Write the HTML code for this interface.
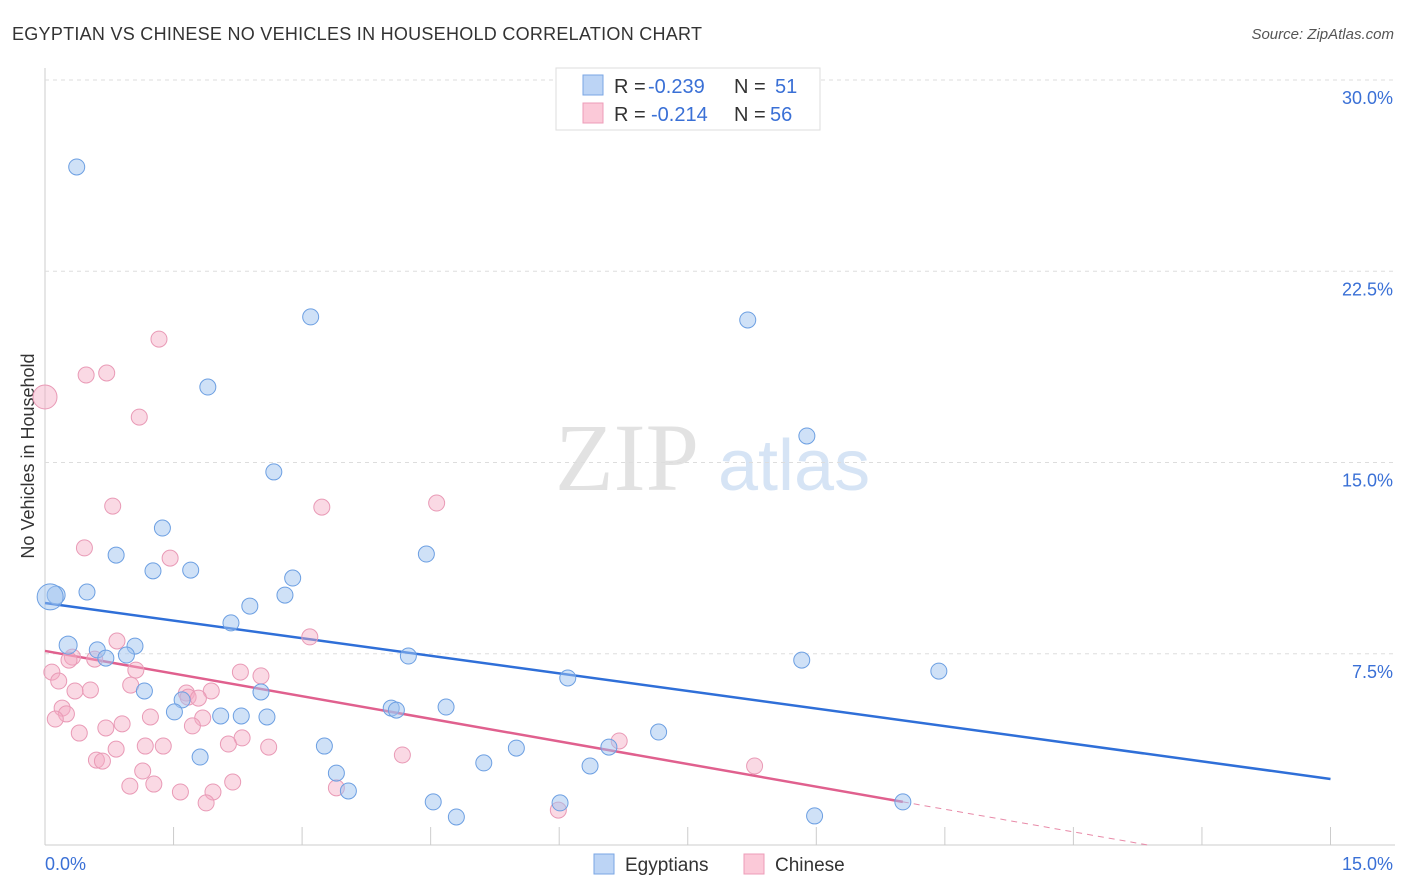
<!DOCTYPE html>
<html><head><meta charset="utf-8"><style>
body{margin:0;background:#fff;font-family:"Liberation Sans",sans-serif;}
svg{display:block}
</style></head><body>
<svg id="chart" width="1406" height="892">
<text x="12" y="40" font-size="18" fill="#333" textLength="690">EGYPTIAN VS CHINESE NO VEHICLES IN HOUSEHOLD CORRELATION CHART</text>
<text x="1394" y="39" font-size="15" fill="#555" font-style="italic" text-anchor="end">Source: ZipAtlas.com</text>
<text x="555" y="490" font-size="96" font-family="Liberation Serif,serif" fill="#e2e2e2">ZIP</text>
<text x="718" y="490" font-size="72" fill="#d6e4f5">atlas</text>
<text transform="translate(34,456) rotate(-90)" font-size="18" fill="#333" text-anchor="middle">No Vehicles in Household</text>
<g id="grid"></g><g id="ticks"></g><g id="lines"></g><g id="pts"></g>
<g>
<rect x="556" y="68" width="264" height="62" fill="#fff" stroke="#ddd"/>
<rect x="583" y="75" width="20" height="20" fill="#bcd4f5" stroke="#7aa6e4"/>
<rect x="583" y="103" width="20" height="20" fill="#fbc9d8" stroke="#ee9cb8"/>
<text x="614" y="93" font-size="20" fill="#333">R = <tspan x="648" fill="#3a70d6">-0.239</tspan><tspan x="734">N = </tspan><tspan x="775" fill="#3a70d6">51</tspan></text>
<text x="614" y="121" font-size="20" fill="#333">R = <tspan x="651" fill="#3a70d6">-0.214</tspan><tspan x="734">N = </tspan><tspan x="770" fill="#3a70d6">56</tspan></text>
</g>
<g>
<rect x="594" y="854" width="20" height="20" fill="#bcd4f5" stroke="#7aa6e4"/>
<text x="625" y="871" font-size="19" fill="#333">Egyptians</text>
<rect x="744" y="854" width="20" height="20" fill="#fbc9d8" stroke="#ee9cb8"/>
<text x="775" y="871" font-size="19" fill="#333">Chinese</text>
</g>
</svg>
<script>
const yTicks=[7.5,15,22.5,30];
const yTickLabels=["7.5%","15.0%","22.5%","30.0%"];
const blueX=[0.37,3.10,8.20,1.90,8.89,2.67,1.37,0.83,4.45,1.26,1.70,0.13,0.49,2.89,2.80,2.39,2.17,0.27,0.61,1.05,0.95,0.71,4.24,8.83,10.43,6.10,1.16,2.52,1.60,1.51,2.05,2.29,2.59,4.04,4.10,4.68,7.16,6.58,3.26,5.50,1.81,5.12,6.36,3.40,3.54,4.53,6.01,10.01,4.80,8.98,0.06];
const blueY=[26.59,20.71,20.59,17.96,16.04,14.63,12.43,11.37,11.41,10.75,10.78,9.80,9.92,10.47,9.80,9.37,8.71,7.84,7.65,7.80,7.45,7.33,7.41,7.25,6.82,6.55,6.04,6.00,5.69,5.22,5.06,5.06,5.02,5.37,5.29,5.41,4.43,3.84,3.88,3.80,3.45,3.22,3.10,2.82,2.12,1.69,1.65,1.69,1.10,1.14,9.73];
const blueR=[8,8,8,8,8,8,8,8,8,8,8,9,8,8,8,8,8,9,8,8,8,8,8,8,8,8,8,8,8,8,8,8,8,8,8,8,8,8,8,8,8,8,8,8,8,8,8,8,8,8,13];
const pinkX=[1.33,0.48,0.72,0.00,1.10,0.79,3.23,4.57,0.46,1.46,3.09,0.84,0.32,0.28,0.58,1.06,0.08,2.28,2.52,0.16,1.00,0.53,0.35,1.65,1.94,1.67,1.79,0.20,0.25,1.23,1.84,0.12,1.72,0.90,0.71,0.40,2.30,2.14,1.17,1.38,2.61,0.83,6.70,4.17,0.60,0.67,8.28,1.14,2.19,0.99,1.27,1.58,1.96,3.40,1.88,5.99];
const pinkY=[19.84,18.43,18.51,17.57,16.78,13.29,13.25,13.41,11.65,11.25,8.16,8.00,7.37,7.25,7.29,6.86,6.78,6.78,6.63,6.43,6.27,6.08,6.04,5.96,6.04,5.80,5.76,5.37,5.14,5.02,4.98,4.94,4.67,4.75,4.59,4.39,4.20,3.96,3.88,3.88,3.84,3.76,4.08,3.53,3.33,3.29,3.10,2.90,2.47,2.31,2.39,2.08,2.08,2.24,1.65,1.37];
const blueTrend=[9.49,2.59];
const pinkTrend=[7.61,-1.26];
const pinkSolidEnd=10.01;
const NS="http://www.w3.org/2000/svg";
const X=v=>45+v*85.7, Y=v=>845-v*25.5;
function mk(t,a,p){const e=document.createElementNS(NS,t);for(const k in a)e.setAttribute(k,a[k]);p.appendChild(e);return e;}
const g=document.getElementById('grid'),tk=document.getElementById('ticks'),ln=document.getElementById('lines'),pt=document.getElementById('pts');
mk('line',{x1:45,y1:68,x2:45,y2:845,stroke:'#ccc'},g);
mk('line',{x1:45,y1:845,x2:1395,y2:845,stroke:'#ccc'},g);
yTicks.forEach((v,i)=>{
 const l=mk('line',{x1:45,y1:Y(v),x2:1395,y2:Y(v),stroke:'#ddd','stroke-dasharray':'4,4'},g);
 
 
 const t=mk('text',{x:1393,y:Y(v)+24,'font-size':18,fill:'#3a70d6','text-anchor':'end'},tk);
 t.textContent=yTickLabels[i];
 
 
});
for(let i=0;i<=10;i++){mk('line',{x1:X(i*1.5),y1:827,x2:X(i*1.5),y2:845,stroke:'#ccc'},tk);}
let t0=mk('text',{x:45,y:870,'font-size':18,fill:'#3a70d6'},tk);t0.textContent='0.0%';


let t1=mk('text',{x:1393,y:870,'font-size':18,fill:'#3a70d6','text-anchor':'end'},tk);t1.textContent='15.0%';


pinkX.forEach((x,i)=>{const c=mk('circle',{cx:X(x),cy:Y(pinkY[i]),r:i==3?12:8,fill:'rgba(245,170,195,0.45)',stroke:'#e99ab6','stroke-width':1},pt);
 
 });
blueX.forEach((x,i)=>{const c=mk('circle',{cx:X(x),cy:Y(blueY[i]),r:blueR[i],fill:'rgba(160,195,240,0.5)',stroke:'#6c9fe2','stroke-width':1},pt);
 
 });
const bl=mk('line',{x1:X(0),y1:Y(blueTrend[0]),x2:X(15),y2:Y(blueTrend[1]),stroke:'#2f6fd8','stroke-width':2.5},ln);


const ps=(pinkTrend[1]-pinkTrend[0])/15;
const pl=mk('line',{x1:X(0),y1:Y(pinkTrend[0]),x2:X(pinkSolidEnd),y2:Y(pinkTrend[0]+ps*pinkSolidEnd),stroke:'#e0608e','stroke-width':2.5},ln);


const zx=-pinkTrend[0]/ps;
const pd=mk('line',{x1:X(pinkSolidEnd),y1:Y(pinkTrend[0]+ps*pinkSolidEnd),x2:X(zx),y2:Y(0),stroke:'#e88aa8','stroke-width':1,'stroke-dasharray':'6,5'},ln);


</script>
</body></html>
